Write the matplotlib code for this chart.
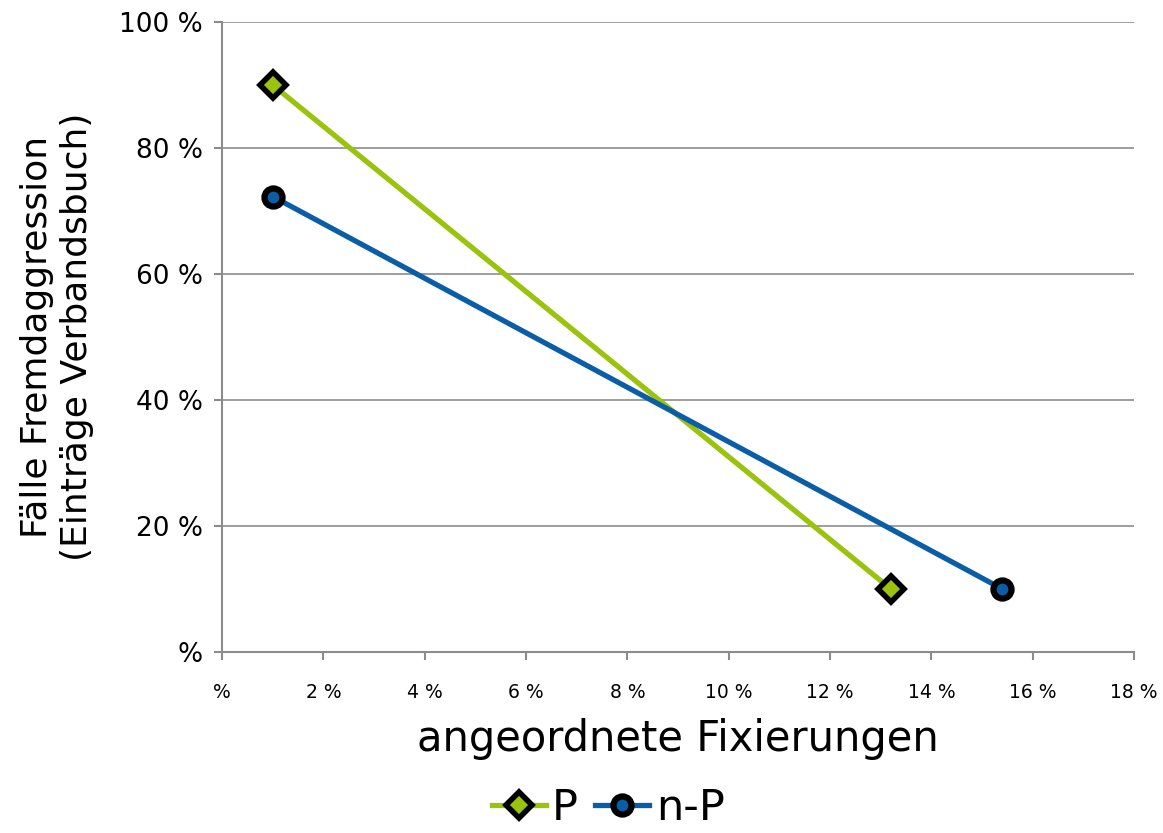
import matplotlib.pyplot as plt
import matplotlib.lines as mlines

# data (percent)
p_x = [1.0, 13.2]
p_y = [90.0, 10.0]
np_x = [1.0, 15.4]
np_y = [72.3, 10.0]

x_ticks = [0, 2, 4, 6, 8, 10, 12, 14, 16, 18]
y_ticks = [0, 20, 40, 60, 80, 100]
x_labels = ['%'] + [f'{v} %' for v in x_ticks[1:]]
y_labels = ['%'] + [f'{v} %' for v in y_ticks[1:]]

green = '#9BC20C'
blue = '#0A5EA8'
grey = '#8C8C8C'

plt.rcParams['font.family'] = ['DejaVu Sans']

fig = plt.figure(figsize=(11.63, 8.33), dpi=100)
ax = fig.add_axes([0.1909, 0.2173, 0.9751 - 0.1909, 0.9736 - 0.2173])

p_style = dict(color=green, linewidth=3.8, marker='D', markersize=13,
               markerfacecolor=green, markeredgecolor='black', markeredgewidth=4)
np_style = dict(color=blue, linewidth=3.8, marker='o', markersize=13,
                markerfacecolor=blue, markeredgecolor='black', markeredgewidth=4.5)

ax.plot(p_x, p_y, zorder=3, **p_style)
ax.plot(np_x, np_y, zorder=3, **np_style)

ax.set_xlim(0, 18)
ax.set_ylim(0, 100)
ax.set_xticks(x_ticks)
ax.set_xticklabels(x_labels, fontsize=13.5)
ax.set_yticks(y_ticks)
ax.set_yticklabels(y_labels, fontsize=19)

ax.grid(True, axis='y', color=grey, linewidth=1.2)
ax.set_axisbelow(True)
for s in ['top', 'right']:
    ax.spines[s].set_visible(False)
for s in ['left', 'bottom']:
    ax.spines[s].set_color(grey)
    ax.spines[s].set_linewidth(1.5)
ax.tick_params(axis='both', colors=grey, length=6, width=1.5, labelcolor='black')
ax.tick_params(axis='x', pad=16)
ax.tick_params(axis='y', pad=8)

ax.set_xlabel('angeordnete Fixierungen', fontsize=30, labelpad=12)
ax.set_ylabel('Fälle Fremdaggression\n(Einträge Verbandsbuch)', fontsize=26, labelpad=18)

h1 = mlines.Line2D([], [], **p_style)
h2 = mlines.Line2D([], [], **np_style)
fig.legend([h1, h2], ['P', 'n-P'], loc='lower center', bbox_to_anchor=(0.523, -0.042),
           ncol=2, frameon=False, fontsize=31, handlelength=1.25, handletextpad=0.15,
           columnspacing=0.4)

fig.savefig('out.png', dpi=100)
